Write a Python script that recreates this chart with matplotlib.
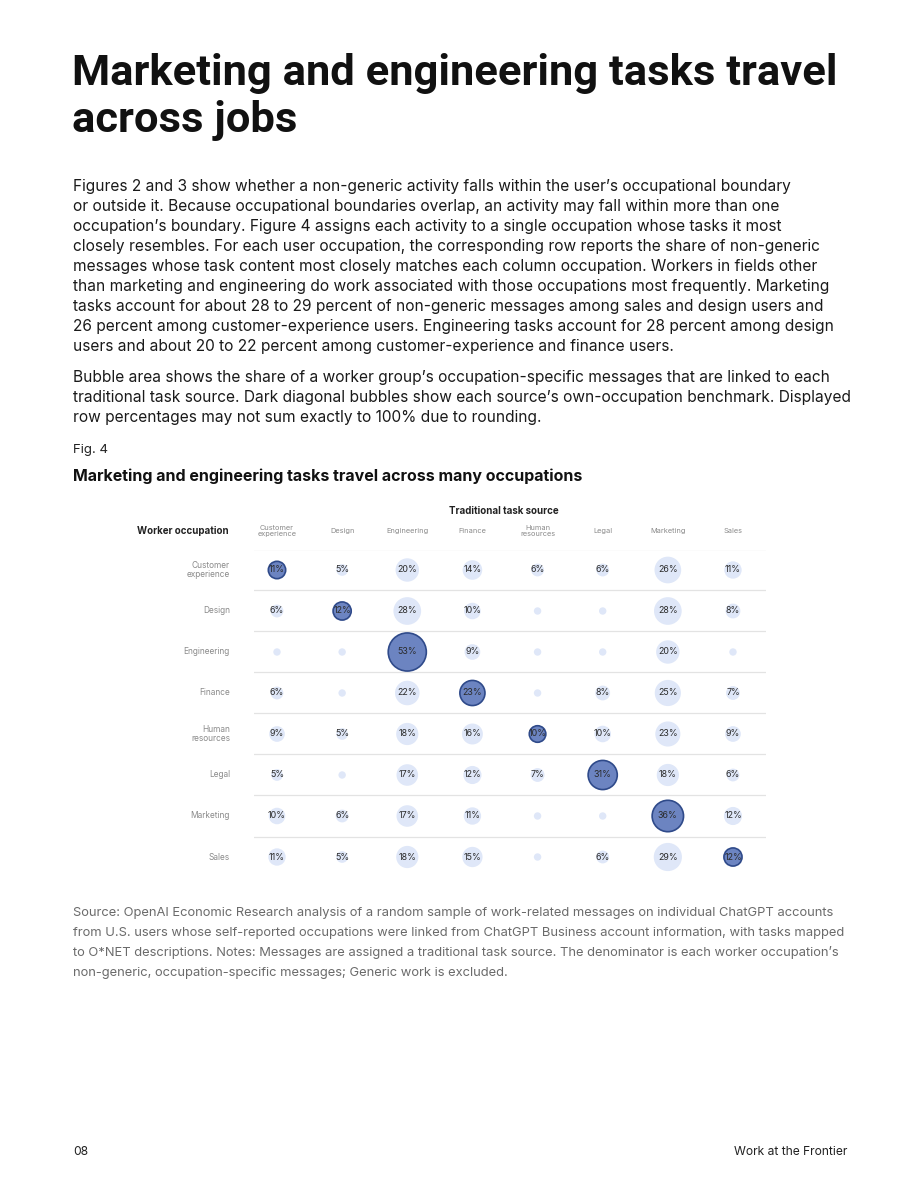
import matplotlib
matplotlib.use("Agg")
import matplotlib.pyplot as plt
import numpy as np

# Data: rows = worker occupation, columns = traditional task source (% of messages)
workers = ["Customer\nexperience", "Design", "Engineering", "Finance",
           "Human\nresources", "Legal", "Marketing", "Sales"]
sources = ["Customer\nexperience", "Design", "Engineering", "Finance",
           "Human\nresources", "Legal", "Marketing", "Sales"]
# unlabeled small bubbles (<5%) estimated as 2
shares = [
    [11, 5, 20, 14, 6, 6, 26, 11],
    [6, 12, 28, 10, 2, 2, 28, 8],
    [2, 2, 53, 9, 2, 2, 20, 2],
    [6, 2, 22, 23, 2, 8, 25, 7],
    [9, 5, 18, 16, 10, 10, 23, 9],
    [5, 2, 17, 12, 7, 31, 18, 6],
    [10, 6, 17, 11, 2, 2, 36, 12],
    [11, 5, 18, 15, 2, 6, 29, 12],
]
label_min = 5

title_lines = ["Marketing and engineering tasks travel", "across jobs"]
para1 = [
    "Figures 2 and 3 show whether a non-generic activity falls within the user\u2019s occupational boundary",
    "or outside it. Because occupational boundaries overlap, an activity may fall within more than one",
    "occupation\u2019s boundary. Figure 4 assigns each activity to a single occupation whose tasks it most",
    "closely resembles. For each user occupation, the corresponding row reports the share of non-generic",
    "messages whose task content most closely matches each column occupation. Workers in fields other",
    "than marketing and engineering do work associated with those occupations most frequently. Marketing",
    "tasks account for about 28 to 29 percent of non-generic messages among sales and design users and",
    "26 percent among customer-experience users. Engineering tasks account for 28 percent among design",
    "users and about 20 to 22 percent among customer-experience and finance users.",
]
para2 = [
    "Bubble area shows the share of a worker group\u2019s occupation-specific messages that are linked to each",
    "traditional task source. Dark diagonal bubbles show each source\u2019s own-occupation benchmark. Displayed",
    "row percentages may not sum exactly to 100% due to rounding.",
]
footer = [
    "Source: OpenAI Economic Research analysis of a random sample of work-related messages on individual ChatGPT accounts",
    "from U.S. users whose self-reported occupations were linked from ChatGPT Business account information, with tasks mapped",
    "to O*NET descriptions. Notes: Messages are assigned a traditional task source. The denominator is each worker occupation\u2019s",
    "non-generic, occupation-specific messages; Generic work is excluded.",
]

W, H = 920, 1191
plt.rcParams["font.family"] = ["Inter", "DejaVu Sans"]
fig = plt.figure(figsize=(W / 100, H / 100), dpi=100)


def px(x, y):
    return x / W, 1 - y / H


# Title
for i, line in enumerate(title_lines):
    fig.text(*px(72, 85 + 47 * i), line, fontsize=31.3, fontweight="bold",
             family=["Roboto", "DejaVu Sans"], color="#111111", va="baseline", ha="left")

# Body
for i, line in enumerate(para1):
    fig.text(*px(73, 191 + 20 * i), line, fontsize=11.15, color="#1a1a1a", va="baseline")
for i, line in enumerate(para2):
    fig.text(*px(73, 382 + 20 * i), line, fontsize=11.15, color="#1a1a1a", va="baseline")

fig.text(*px(73, 453), "Fig. 4", fontsize=9.5, color="#222222", va="baseline")
fig.text(*px(73, 481), "Marketing and engineering tasks travel across many occupations",
         fontsize=11.5, fontweight="bold", color="#111111", va="baseline")

# Chart axes, set so column/row centers land where they should
x0, dx = 277, 65.14
y0, dy = 570, 41
left, right, top, bottom = 254, 766, 550, 878
ax = fig.add_axes([left / W, 1 - bottom / H, (right - left) / W, (bottom - top) / H])
ax.set_xlim((left - x0) / dx, (right - x0) / dx)
ax.set_ylim((bottom - y0) / dy, (top - y0) / dy)
ax.axis("off")

vals = np.array(shares, dtype=float)
n_rows, n_cols = vals.shape
for j in range(n_rows):
    ax.axhline(j - 0.5, color="#e3e3e3", lw=0.9, zorder=0)

xs, ys = np.meshgrid(np.arange(n_cols), np.arange(n_rows))
diag = xs == ys
scale = 14.2
ax.scatter(xs[~diag], ys[~diag], s=vals[~diag] * scale, color="#dfe7f8",
           edgecolors="none", zorder=2)
ax.scatter(xs[diag], ys[diag], s=vals[diag] * scale, color="#6c84c1",
           edgecolors="#2f4a8a", linewidths=1.2, zorder=3)

for j in range(n_rows):
    for i in range(n_cols):
        v = shares[j][i]
        if v >= label_min:
            ax.text(i, j, f"{v}%", ha="center", va="center", fontsize=6.4,
                    color="#2a2a2a", zorder=4)

# Row labels
for j, lab in enumerate(workers):
    ax.text((230 - x0) / dx, j, lab, ha="right", va="center", fontsize=6.0,
            color="#8a8a8a", linespacing=1.1, clip_on=False)

# Column headers
for i, lab in enumerate(sources):
    ax.text(i, (531 - y0) / dy, lab, ha="center", va="center", fontsize=5.3,
            color="#8a8a8a", linespacing=1.0, clip_on=False)

fig.text(*px(137, 531), "Worker occupation", fontsize=7.0, fontweight="bold",
         color="#222222", va="center", ha="left")
fig.text(*px(504, 511), "Traditional task source", fontsize=7.0, fontweight="bold",
         color="#222222", va="center", ha="center")

# Footer
for i, line in enumerate(footer):
    fig.text(*px(73, 916 + 20 * i), line, fontsize=9.32, color="#6b6b6b", va="baseline")

fig.text(*px(73, 1155), "08", fontsize=8.7, color="#222222", va="baseline")
fig.text(*px(847, 1155), "Work at the Frontier", fontsize=8.7, color="#222222",
         va="baseline", ha="right")

fig.savefig("out.png", dpi=100)
